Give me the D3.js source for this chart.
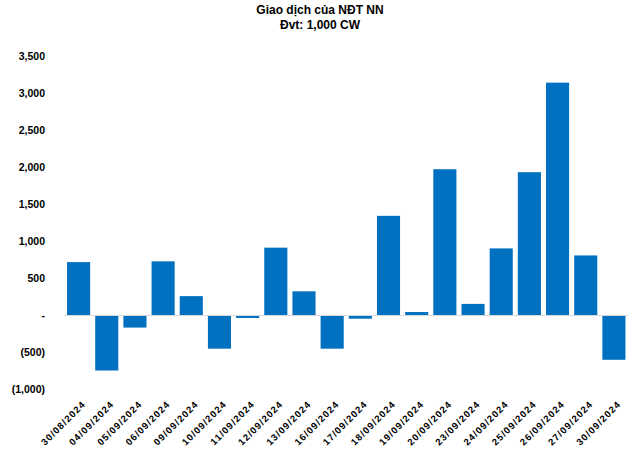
<!DOCTYPE html>
<html><head><meta charset="utf-8">
<script src="https://cdn.jsdelivr.net/npm/d3@7"></script>
<style>body{margin:0;background:#fff}svg{display:block}text{font-family:"Liberation Sans",Arial,sans-serif;font-weight:bold;fill:#000}</style>
</head><body>
<svg id="c" width="640" height="451"></svg>
<script>
const titleLines = ["Giao dịch của NĐT NN", "Đvt: 1,000 CW"];
const dates = ["30/08/2024","04/09/2024","05/09/2024","06/09/2024","09/09/2024","10/09/2024","11/09/2024","12/09/2024","13/09/2024","16/09/2024","17/09/2024","18/09/2024","19/09/2024","20/09/2024","23/09/2024","24/09/2024","25/09/2024","26/09/2024","27/09/2024","30/09/2024"];
const values = [715,-750,-170,725,255,-455,-40,910,320,-455,-50,1340,40,1970,150,900,1930,3140,805,-605];
const yTicks = [-1000,-500,0,500,1000,1500,2000,2500,3000,3500];

const svg = d3.select("#c");
const x = d3.scaleBand().domain(dates).range([64.5, 628]).paddingInner(0.18).paddingOuter(0.09);
const y = d3.scaleLinear().domain([-1000, 3500]).range([389, 56]);

svg.selectAll("text.title").data(titleLines).enter().append("text")
  .attr("x", 320).attr("y", (d,i)=>14+i*14.5).attr("text-anchor","middle")
  .style("font-size","12px").text(d=>d);

const fmt = v => v===0 ? "-" : (v<0 ? "(" + d3.format(",")(-v) + ")" : d3.format(",")(v));
const yAxis = d3.axisLeft(y).tickValues(yTicks).tickFormat(fmt).tickSize(0).tickPadding(0);
const ga = svg.append("g").attr("transform","translate(45,0)").call(yAxis);
ga.select(".domain").remove();
ga.selectAll("text").style("font-size","10.5px").style("font-family",'"Liberation Sans",Arial,sans-serif').style("font-weight","bold").attr("fill","#000");

svg.selectAll("rect.bar").data(values).enter().append("rect")
  .attr("x",(d,i)=>x(dates[i])).attr("width",x.bandwidth())
  .attr("y",d=>y(Math.max(0,d))).attr("height",d=>Math.abs(y(d)-y(0)))
  .attr("fill","#0070C0");

svg.append("line").attr("x1",64.5).attr("x2",628).attr("y1",y(0)+0.5).attr("y2",y(0)+0.5)
  .attr("stroke","#d9d9d9").attr("stroke-width",1);

const xAxis = d3.axisBottom(x).tickSize(0).tickPadding(0);
const gx = svg.append("g").attr("transform","translate(3,400)").call(xAxis);
gx.select(".domain").remove();
gx.selectAll("text").style("font-size","9.5px").style("letter-spacing","1.1px").style("font-family",'"Liberation Sans",Arial,sans-serif').style("font-weight","bold").attr("fill","#000")
  .attr("text-anchor","end").attr("dy","0.7em").attr("dx","0").attr("y",0)
  .attr("transform","rotate(-45)");
</script>
</body></html>
